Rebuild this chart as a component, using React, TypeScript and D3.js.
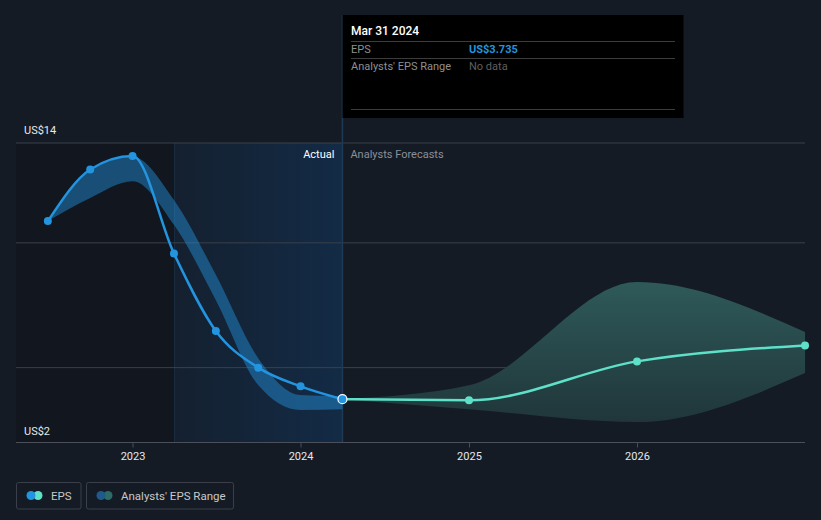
import React from "react";
import * as d3 from "d3";

const actualDates = ["2022-06-30", "2022-09-30", "2022-12-31", "2023-03-31", "2023-06-30", "2023-09-30", "2023-12-31", "2024-03-31"];
const actualEps = [10.87, 12.94, 13.48, 9.57, 6.47, 5.0, 4.25, 3.735];
const pastRangeLow = [10.87, 11.8, 12.47, 10.72, 7.7, 4.3, 3.3, 3.33];
const pastRangeHigh = [10.87, 12.9, 13.45, 11.72, 8.72, 5.38, 3.9, 3.85];

const forecastDates = ["2024-03-31", "2024-12-31", "2025-12-31", "2026-12-31"];
const forecastEps = [3.735, 3.69, 5.25, 5.89];
const forecastLow = [3.735, 3.33, 2.82, 4.78];
const forecastHigh = [3.735, 4.29, 8.43, 6.43];

const yTicks = [14, 10, 5, 2];
const yLabels = ["US$14", "US$2"];
const xTicks = ["2023", "2024", "2025", "2026"];

const W = 821;
const H = 520;
const FONT = "Roboto, 'Noto Sans', sans-serif";

export default function App() {
  const parse = d3.timeParse("%Y-%m-%d");
  const x = d3
    .scaleTime()
    .domain([parse("2023-01-01")!, parse("2027-01-01")!])
    .range([133, 805.5]);
  const y = d3.scaleLinear().domain([2, 14]).range([442.5, 143]);
  const left = 16;
  const right = 805;

  const past = actualDates.map((d, i) => ({ d: parse(d)!, v: actualEps[i], lo: pastRangeLow[i], hi: pastRangeHigh[i] }));
  const fut = forecastDates.map((d, i) => ({ d: parse(d)!, v: forecastEps[i], lo: forecastLow[i], hi: forecastHigh[i] }));

  const line = d3
    .line<{ d: Date; v: number }>()
    .x((p) => x(p.d))
    .y((p) => y(p.v))
    .curve(d3.curveMonotoneX);
  const area = d3
    .area<{ d: Date; lo: number; hi: number }>()
    .x((p) => x(p.d))
    .y0((p) => y(p.lo))
    .y1((p) => y(p.hi))
    .curve(d3.curveMonotoneX);

  const nowX = x(parse("2024-03-31")!);
  const hlStart = x(parse("2023-03-31")!);
  const lastPast = past[past.length - 1];

  return (
    <svg width={W} height={H} style={{ display: "block", position: "absolute", left: 0, top: 0, background: "#151b25" }}>
      <defs>
        <linearGradient id="hl" x1="0" x2="1" y1="0" y2="0">
          <stop offset="0" stopColor="#14202f" />
          <stop offset="1" stopColor="#132b46" />
        </linearGradient>
        <linearGradient id="fband" gradientUnits="userSpaceOnUse" x1="0" x2="0" y1="280" y2="430">
          <stop offset="0" stopColor="#2f5a5a" />
          <stop offset="1" stopColor="#1f3438" />
        </linearGradient>
      </defs>
      <rect x={0} y={0} width={W} height={H} fill="#151b25" />
      {/* dark past region */}
      <rect x={left} y={y(14)} width={hlStart - left} height={y(2) - y(14)} fill="#11161f" />
      {/* highlight past year */}
      <rect x={hlStart} y={y(14)} width={nowX - hlStart} height={y(2) - y(14)} fill="url(#hl)" />
      <line x1={hlStart + 0.5} x2={hlStart + 0.5} y1={y(14)} y2={y(2)} stroke="#1c2d40" strokeWidth={1} />

      {/* gridlines */}
      {yTicks.slice(0, 3).map((t) => (
        <line key={t} x1={left} x2={right} y1={y(t)} y2={y(t)} stroke="#3a404b" strokeWidth={1} />
      ))}
      <text x={24} y={y(14) - 9} fill="#e8e8e8" fontSize={11} fontFamily={FONT}>{yLabels[0]}</text>
      <text x={24} y={y(2) - 8} fill="#e8e8e8" fontSize={11} fontFamily={FONT}>{yLabels[1]}</text>

      {/* now line */}
      <line x1={nowX} x2={nowX} y1={15} y2={y(2)} stroke="#1e3a56" strokeWidth={1.5} />

      <text x={nowX - 8} y={158} textAnchor="end" fill="#ffffff" fontSize={11} fontFamily={FONT}>Actual</text>
      <text x={nowX + 8} y={158} fill="#8a8f98" fontSize={11} fontFamily={FONT}>Analysts Forecasts</text>

      {/* bands */}
      <path d={area(past) || ""} fill="#2394df" fillOpacity={0.45} />
      <path d={area(fut) || ""} fill="url(#fband)" />

      {/* lines */}
      <path d={line(fut) || ""} fill="none" stroke="#5ee0c9" strokeWidth={2.5} />
      <path d={line(past) || ""} fill="none" stroke="#2394df" strokeWidth={2.5} />
      {fut.slice(1).map((p, i) => (
        <circle key={"f" + i} cx={x(p.d)} cy={y(p.v)} r={4} fill="#5ee0c9" />
      ))}
      {past.slice(0, -1).map((p, i) => (
        <circle key={"p" + i} cx={x(p.d)} cy={y(p.v)} r={4} fill="#2394df" />
      ))}
      <circle cx={x(lastPast.d)} cy={y(lastPast.v)} r={4.5} fill="#2394df" stroke="#ffffff" strokeWidth={1.2} />

      {/* x axis */}
      <line x1={left} x2={right} y1={y(2)} y2={y(2)} stroke="#4a4f59" strokeWidth={1} />
      {xTicks.map((t) => {
        const xx = x(parse(t + "-01-01")!);
        return (
          <g key={t}>
            <line x1={xx} x2={xx} y1={y(2)} y2={y(2) + 5} stroke="#4a4f59" />
            <text x={xx} y={460} textAnchor="middle" fill="#e8e8e8" fontSize={11} fontFamily={FONT}>{t}</text>
          </g>
        );
      })}

      {/* tooltip */}
      <rect x={342.5} y={15} width={341} height={103} fill="#000000" />
      <text x={351} y={35} fill="#ffffff" fontSize={12} fontWeight={500} fontFamily={FONT}>Mar 31 2024</text>
      <line x1={351} x2={675} y1={41.5} y2={41.5} stroke="#3c3c3c" />
      <text x={351} y={53} fill="#8f8f8f" fontSize={11} fontFamily={FONT}>EPS</text>
      <text x={469} y={53} fill="#2394df" fontSize={11} fontWeight={700} fontFamily={FONT}>US$3.735</text>
      <line x1={351} x2={675} y1={58.5} y2={58.5} stroke="#3c3c3c" />
      <text x={351} y={70} fill="#8f8f8f" fontSize={11} fontFamily={FONT}>Analysts' EPS Range</text>
      <text x={469} y={70} fill="#5f5f5f" fontSize={11} fontFamily={FONT}>No data</text>
      <line x1={351} x2={675} y1={109.5} y2={109.5} stroke="#3c3c3c" />

      {/* legend */}
      <rect x={16.5} y={482.5} width={64.5} height={26.5} rx={2} fill="none" stroke="#3a3f4a" />
      <circle cx={38} cy={495.5} r={4.5} fill="#5ee0c9" />
      <circle cx={31} cy={495.5} r={4.5} fill="#2394df" />
      <text x={51} y={499.5} fill="#c8c8c8" fontSize={11.5} fontFamily={FONT}>EPS</text>
      <rect x={86.5} y={482.5} width={147} height={26.5} rx={2} fill="none" stroke="#3a3f4a" />
      <circle cx={108} cy={495.5} r={4.5} fill="#2e6a66" />
      <circle cx={101} cy={495.5} r={4.5} fill="#1e5a8a" />
      <text x={121} y={499.5} fill="#c8c8c8" fontSize={11.5} fontFamily={FONT}>Analysts' EPS Range</text>
    </svg>
  );
}
